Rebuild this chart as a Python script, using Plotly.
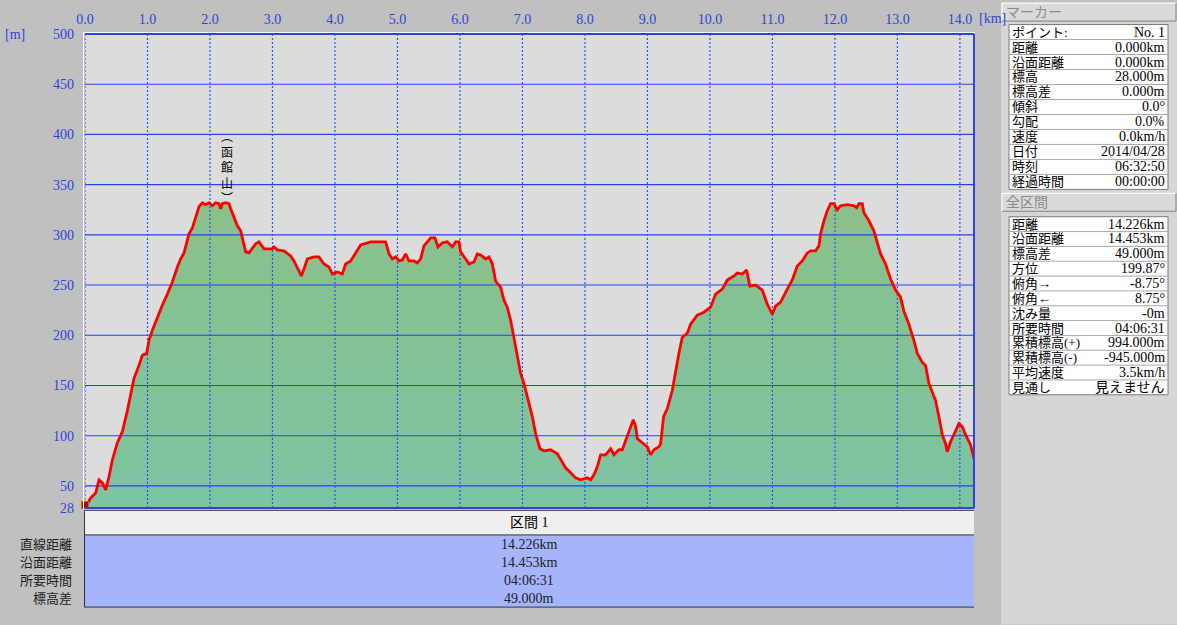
import plotly.graph_objects as go

# ---------------- data ----------------
dist_km = [0.000, 0.091, 0.171, 0.224, 0.278, 0.331, 0.384, 0.438, 0.518, 0.598, 0.678, 0.731, 0.784, 0.864,
           0.918, 0.987, 1.024, 1.078, 1.158, 1.238, 1.318, 1.398, 1.478, 1.531, 1.584, 1.638, 1.664, 1.718,
           1.771, 1.824, 1.878, 1.931, 1.984, 2.038, 2.091, 2.144, 2.171, 2.198, 2.251, 2.304, 2.331, 2.384,
           2.438, 2.491, 2.518, 2.544, 2.571, 2.624, 2.678, 2.731, 2.784, 2.838, 2.864, 2.998, 3.024, 3.078,
           3.184, 3.291, 3.344, 3.424, 3.462, 3.504, 3.558, 3.664, 3.744, 3.824, 3.904, 3.958, 4.038, 4.118,
           4.171, 4.251, 4.331, 4.411, 4.571, 4.731, 4.811, 4.864, 4.918, 4.971, 5.024, 5.078, 5.131, 5.184,
           5.264, 5.318, 5.371, 5.424, 5.478, 5.531, 5.600, 5.648, 5.718, 5.798, 5.878, 5.931, 5.984, 6.011,
           6.091, 6.144, 6.224, 6.278, 6.331, 6.411, 6.464, 6.518, 6.571, 6.651, 6.704, 6.758, 6.811, 6.864,
           6.918, 6.971, 7.024, 7.078, 7.158, 7.211, 7.280, 7.344, 7.451, 7.558, 7.611, 7.691, 7.771, 7.851,
           7.931, 8.038, 8.091, 8.144, 8.198, 8.251, 8.331, 8.411, 8.464, 8.544, 8.598, 8.678, 8.731, 8.774,
           8.811, 8.838, 8.918, 8.998, 9.051, 9.104, 9.184, 9.211, 9.259, 9.318, 9.398, 9.451, 9.504, 9.558,
           9.638, 9.691, 9.798, 9.904, 10.011, 10.091, 10.198, 10.278, 10.384, 10.438, 10.518, 10.587, 10.640,
           10.731, 10.838, 10.918, 10.998, 11.051, 11.131, 11.238, 11.318, 11.398, 11.478, 11.558, 11.611,
           11.691, 11.744, 11.771, 11.824, 11.878, 11.931, 11.984, 12.038, 12.091, 12.198, 12.304, 12.347,
           12.384, 12.438, 12.464, 12.544, 12.624, 12.678, 12.731, 12.811, 12.891, 12.971, 13.051, 13.104,
           13.184, 13.264, 13.318, 13.398, 13.451, 13.504, 13.558, 13.611, 13.664, 13.718, 13.771, 13.798,
           13.851, 13.931, 13.984, 14.038, 14.091, 14.171, 14.226]
elev_m = [28, 38, 43, 56, 53, 46, 59, 76, 93, 104, 125, 142, 157, 170,
          180, 182, 195, 205, 218, 230, 241, 253, 268, 276, 282, 294, 301, 307,
          317, 328, 332, 330, 332, 329, 332, 331, 326, 331, 332, 331, 326, 317,
          309, 304, 297, 289, 283, 282, 286, 291, 293, 289, 286, 286, 288, 285,
          284, 279, 274, 264, 259, 266, 276, 278, 278, 271, 268, 261, 263, 261,
          271, 274, 282, 290, 293, 293, 293, 281, 276, 278, 274, 275, 281, 274,
          274, 272, 276, 289, 293, 297, 297, 288, 292, 293, 288, 293, 293, 283,
          276, 271, 273, 281, 280, 276, 278, 271, 254, 248, 235, 228, 215, 198,
          182, 162, 152, 139, 119, 102, 87, 85, 86, 82, 76, 68, 63, 58,
          56, 58, 56, 61, 69, 81, 81, 87, 81, 86, 86, 99, 109, 116,
          109, 97, 93, 89, 81, 86, 89, 92, 119, 127, 145, 165, 182, 198,
          202, 211, 220, 223, 228, 241, 246, 255, 259, 262, 261, 265, 249,
          250, 245, 231, 221, 229, 233, 246, 255, 269, 274, 282, 284,
          284, 289, 301, 314, 324, 331, 331, 325, 329, 330, 329, 327,
          331, 331, 322, 314, 304, 293, 281, 271, 256, 245, 238, 224,
          211, 195, 182, 173, 170, 152, 144, 135, 119, 101, 92, 84,
          94, 106, 112, 109, 101, 91, 77]

x_tick_vals = [0, 1, 2, 3, 4, 5, 6, 7, 8, 9, 10, 11, 12, 13, 14]
x_tick_labels = ["0.0", "1.0", "2.0", "3.0", "4.0", "5.0", "6.0", "7.0", "8.0", "9.0",
                 "10.0", "11.0", "12.0", "13.0", "14.0"]
y_tick_vals = [28, 50, 100, 150, 200, 250, 300, 350, 400, 450, 500]
y_tick_labels = ["28", "50", "100", "150", "200", "250", "300", "350", "400", "450", "500"]

peak_name = "函館山"
peak_km = 2.28
peak_label_elev = 368

marker_labels = ["ポイント:", "距離", "沿面距離", "標高", "標高差", "傾斜", "勾配", "速度", "日付", "時刻", "経過時間"]
marker_values = ["No. 1", "0.000km", "0.000km", "28.000m", "0.000m", "0.0°", "0.0%", "0.0km/h",
                 "2014/04/28", "06:32:50", "00:00:00"]
total_labels = ["距離", "沿面距離", "標高差", "方位", "俯角→", "俯角←", "沈み量", "所要時間",
                "累積標高(+)", "累積標高(-)", "平均速度", "見通し"]
total_values = ["14.226km", "14.453km", "49.000m", "199.87°", "-8.75°", "8.75°", "-0m", "04:06:31",
                "994.000m", "-945.000m", "3.5km/h", "見えません"]
section_title = "区間 1"
section_labels = ["直線距離", "沿面距離", "所要時間", "標高差"]
section_values = ["14.226km", "14.453km", "04:06:31", "49.000m"]

# ---------------- layout helpers (pixel -> paper) ----------------
W, H = 1177, 625
PL, PR, PT, PB = 85, 974, 32, 508
X_MAX = dist_km[-1]
Y_MIN, Y_MAX = y_tick_vals[0], y_tick_vals[-1]


def px(X):
    return (X - PL) / (PR - PL)


def py(Y):
    return (PB - Y) / (PB - PT)


FONT = "'Liberation Serif', 'Noto Sans CJK JP', serif"
BLUE = "#2a46d8"
GRID_BLUE = "#2244ee"

fig = go.Figure()
# green area
fig.add_trace(go.Scatter(
    x=dist_km, y=elev_m, mode="lines",
    line=dict(color="rgba(0,0,0,0)", width=0),
    fill="tozeroy",
    fillgradient=dict(type="vertical", start=28, stop=330,
                      colorscale=[[0, "#7cc4a4"], [1, "#8bc08a"]]),
    hoverinfo="skip", showlegend=False,
))
# grid lines drawn above the fill, below the profile line
hx, hy = [], []
for v in y_tick_vals[1:-1]:
    hx += [0, X_MAX, None]
    hy += [v, v, None]
fig.add_trace(go.Scatter(x=hx, y=hy, mode="lines", line=dict(color=GRID_BLUE, width=1.1),
                         hoverinfo="skip", showlegend=False))
vx, vy = [], []
for v in x_tick_vals:
    vx += [v, v, None]
    vy += [Y_MIN, Y_MAX, None]
fig.add_trace(go.Scatter(x=vx, y=vy, mode="lines", line=dict(color="#2a50ff", width=1.2, dash="2px,2px"),
                         hoverinfo="skip", showlegend=False, cliponaxis=False))
# profile line
fig.add_trace(go.Scatter(
    x=dist_km, y=elev_m, mode="lines",
    line=dict(color="#ff0000", width=2.8),
    hoverinfo="x+y", showlegend=False,
))
# start marker (hiker position)
fig.add_trace(go.Scatter(
    x=[dist_km[0]], y=[elev_m[0] + 3], mode="markers",
    marker=dict(symbol="square", size=7, color="#8b1a1a", line=dict(color="#d06020", width=1)),
    cliponaxis=False, showlegend=False, hoverinfo="skip",
))

shapes = []
annotations = []

# right panel background
shapes.append(dict(type="rect", xref="paper", yref="paper", x0=px(1001), x1=px(1177), y0=py(625), y1=py(0),
                   fillcolor="#d6d6d6", line=dict(width=0), layer="below"))


def header_box(y0, y1, text):
    shapes.append(dict(type="rect", xref="paper", yref="paper", x0=px(1002), x1=px(1176), y0=py(y1), y1=py(y0),
                       fillcolor="#dadada", line=dict(width=0), layer="below"))
    shapes.append(dict(type="line", xref="paper", yref="paper", x0=px(1002), x1=px(1176), y0=py(y0), y1=py(y0),
                       line=dict(color="#ffffff", width=1)))
    shapes.append(dict(type="line", xref="paper", yref="paper", x0=px(1002), x1=px(1002), y0=py(y0), y1=py(y1),
                       line=dict(color="#ffffff", width=1)))
    shapes.append(dict(type="line", xref="paper", yref="paper", x0=px(1002), x1=px(1176), y0=py(y1), y1=py(y1),
                       line=dict(color="#808080", width=1)))
    shapes.append(dict(type="line", xref="paper", yref="paper", x0=px(1176), x1=px(1176), y0=py(y0), y1=py(y1),
                       line=dict(color="#808080", width=1)))
    annotations.append(dict(xref="paper", yref="paper", x=px(1004), y=py((y0 + y1) / 2), text=text,
                            showarrow=False, xanchor="left", yanchor="middle",
                            font=dict(family=FONT, size=14, color="#8a8a8a")))


def info_table(top, row_h, labels, values):
    n = len(labels)
    bottom = top + n * row_h
    shapes.append(dict(type="rect", xref="paper", yref="paper", x0=px(1009), x1=px(1168), y0=py(bottom),
                       y1=py(top), fillcolor="#ffffff", line=dict(color="#7a7a7a", width=1), layer="below"))
    for i, (lab, val) in enumerate(zip(labels, values)):
        t = top + i * row_h
        if i > 0:
            shapes.append(dict(type="line", xref="paper", yref="paper", x0=px(1009), x1=px(1168),
                               y0=py(t), y1=py(t), line=dict(color="#a8a8a8", width=1)))
        c = t + row_h / 2
        annotations.append(dict(xref="paper", yref="paper", x=px(1010), y=py(c), text=lab, showarrow=False,
                                xanchor="left", yanchor="middle", font=dict(family=FONT, size=13, color="#000000")))
        annotations.append(dict(xref="paper", yref="paper", x=px(1167), y=py(c), text=val, showarrow=False,
                                xanchor="right", yanchor="middle", font=dict(family=FONT, size=14, color="#000000")))


header_box(1, 19, "マーカー")
info_table(22.5, 15.05, marker_labels, marker_values)
header_box(192, 210, "全区間")
info_table(215.5, 14.9, total_labels, total_values)

# plot frame
shapes.append(dict(type="line", xref="paper", yref="paper", x0=px(84), x1=px(975), y0=py(30.5), y1=py(30.5),
                   line=dict(color="#ffffff", width=1)))
shapes.append(dict(type="line", xref="paper", yref="paper", x0=px(83.5), x1=px(83.5), y0=py(30.5), y1=py(509),
                   line=dict(color="#ffffff", width=1)))
shapes.append(dict(type="line", xref="paper", yref="paper", x0=0, x1=1, y0=1, y1=1,
                   line=dict(color=BLUE, width=2)))
shapes.append(dict(type="line", xref="paper", yref="paper", x0=1, x1=1, y0=0, y1=1,
                   line=dict(color=BLUE, width=2)))
shapes.append(dict(type="line", xref="paper", yref="paper", x0=0, x1=1, y0=0, y1=0,
                   line=dict(color=BLUE, width=2)))

# bottom section table
shapes.append(dict(type="rect", xref="paper", yref="paper", x0=px(85), x1=px(974), y0=py(535), y1=py(511),
                   fillcolor="#efefef", line=dict(width=0)))
shapes.append(dict(type="line", xref="paper", yref="paper", x0=px(84), x1=px(974), y0=py(510.5), y1=py(510.5),
                   line=dict(color="#505050", width=1)))
shapes.append(dict(type="line", xref="paper", yref="paper", x0=px(85), x1=px(974), y0=py(535), y1=py(535),
                   line=dict(color="#808080", width=2)))
shapes.append(dict(type="rect", xref="paper", yref="paper", x0=px(85), x1=px(974), y0=py(607), y1=py(536),
                   fillcolor="#a5b5fc", line=dict(width=0)))
shapes.append(dict(type="line", xref="paper", yref="paper", x0=px(84.5), x1=px(84.5), y0=py(511), y1=py(607.5),
                   line=dict(color="#303040", width=1)))
shapes.append(dict(type="line", xref="paper", yref="paper", x0=px(84.5), x1=px(974), y0=py(607.5), y1=py(607.5),
                   line=dict(color="#303040", width=1)))

annotations.append(dict(xref="paper", yref="paper", x=px(529), y=py(523), text=section_title, showarrow=False,
                        xanchor="center", yanchor="middle", font=dict(family=FONT, size=14, color="#000000")))
row_centers = [545, 563, 581, 599]
for lab, val, yc in zip(section_labels, section_values, row_centers):
    annotations.append(dict(xref="paper", yref="paper", x=px(74), y=py(yc), text=lab, showarrow=False,
                            xanchor="right", yanchor="middle", font=dict(family=FONT, size=13, color="#202020")))
    annotations.append(dict(xref="paper", yref="paper", x=px(529), y=py(yc), text=val, showarrow=False,
                            xanchor="center", yanchor="middle", font=dict(family=FONT, size=14, color="#202020")))

# unit labels
annotations.append(dict(xref="paper", yref="paper", x=px(977), y=py(16), text="[km]", showarrow=False,
                        xanchor="left", yanchor="middle", font=dict(family=FONT, size=14, color=BLUE)))
annotations.append(dict(xref="paper", yref="paper", x=px(3), y=py(32), text="[m]", showarrow=False,
                        xanchor="left", yanchor="middle", font=dict(family=FONT, size=14, color=BLUE)))

# peak label (vertical text)
annotations.append(dict(x=peak_km, y=peak_label_elev, xref="x", yref="y",
                        text="︵<br>" + "<br>".join(list(peak_name)) + "<br>︶",
                        showarrow=False, xanchor="center", yanchor="middle",
                        font=dict(family="'Noto Sans CJK JP'", size=12, color="#000000")))

fig.update_layout(
    width=W, height=H, autosize=False,
    margin=dict(l=PL, r=W - PR, t=PT, b=H - PB, pad=0),
    paper_bgcolor="#c0c0c0",
    plot_bgcolor="#dcdcdc",
    font=dict(family=FONT, size=14, color=BLUE),
    shapes=shapes,
    annotations=annotations,
    showlegend=False,
    xaxis=dict(range=[0, X_MAX], side="top", tickvals=x_tick_vals, ticktext=x_tick_labels,
               showgrid=False, zeroline=False, showline=False, ticks="", ticklabelstandoff=6,
               tickfont=dict(family=FONT, size=14, color=BLUE), fixedrange=True),
    yaxis=dict(range=[Y_MIN, Y_MAX], tickvals=y_tick_vals, ticktext=y_tick_labels,
               showgrid=False, zeroline=False, showline=False, ticks="", ticklabelstandoff=10,
               tickfont=dict(family=FONT, size=14, color=BLUE), fixedrange=True),
)

fig.write_html("out.html", include_plotlyjs=True, config={"displayModeBar": False},
               post_script="document.body.style.margin='0';document.body.style.overflow='hidden';")
